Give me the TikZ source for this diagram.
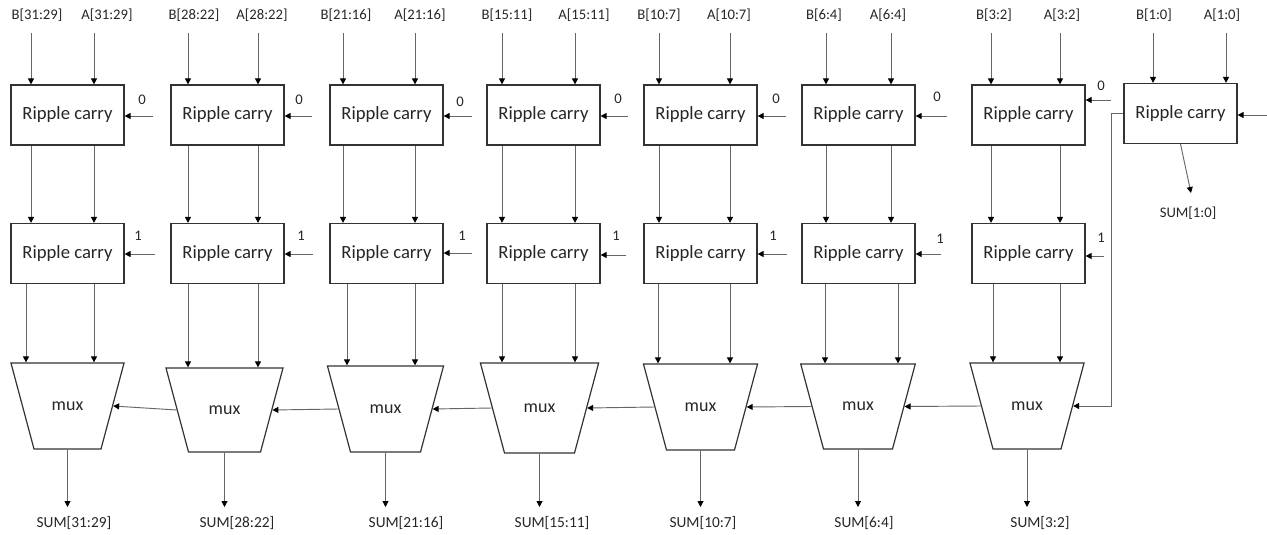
\documentclass[tikz,border=0pt]{standalone}
\usepackage{fontspec}
\setmainfont{Carlito}
\usetikzlibrary{arrows.meta,shapes.geometric,calc}
\begin{document}
\begin{tikzpicture}[x=0.75pt,y=-0.75pt,
  rc/.style={draw=black!80,line width=0.9pt,minimum width=84.75pt,minimum height=45pt,inner sep=0pt,font=\fontsize{14}{16}\selectfont,text=black!85},
  muxs/.style={draw=black!80,line width=0.9pt,trapezium,shape border rotate=180,trapezium angle=75,inner sep=0pt,text depth=0pt},
  muxt/.style={font=\fontsize{13.5}{16}\selectfont,text=black!85,inner sep=0pt},
  lbl/.style={font=\fontsize{11}{13}\selectfont,text=black!85,inner sep=0pt},
  sumlbl/.style={font=\fontsize{11.5}{13}\selectfont,text=black!85,inner sep=0pt},
  arr/.style={draw=black!60,line width=0.7pt,-{Triangle[length=4.5pt,width=4.5pt,color=black]}}
]
\useasboundingbox (0,0) rectangle (1267,535);

% ripple carry blocks
\foreach \i/\cx in {1/67.5,2/227.5,3/386.5,4/543.5,5/700.5,6/858.5,7/1028.5}{
  \node[rc] (r1c\i) at (\cx,115) {Ripple carry};
  \node[rc] (r2c\i) at (\cx,253.5) {Ripple carry};
}
\node[rc] (r1c8) at (1180.5,113.5) {Ripple carry};

% muxes
\foreach \i/\cx/\cy/\w/\h in {1/67.5/406/50.25pt/64.5pt, 2/224.5/410/54pt/63pt, 3/385.5/409/52.5pt/64.5pt, 4/539.5/408/52.5pt/67.5pt, 5/700.5/407/51pt/64.5pt, 6/858/406.5/51.75pt/63.75pt, 7/1027/406/51pt/64.5pt}{
  \node[muxs,text width=\w,text height=\h] (m\i) at (\cx,\cy) {};
  \node[muxt] (mt\i) at (m\i.center) {mux};
}

% input labels
\foreach \i/\bits/\bx/\ax in {1/31:29/37/107, 2/28:22/194/262, 3/21:16/346/420, 4/15:11/507/584, 5/10:7/659/729, 6/6:4/824/888, 7/3:2/994/1062, 8/1:0/1154/1222}{
  \node[lbl] (lb\i) at (\bx,15) {B[\bits]};
  \node[lbl] (la\i) at (\ax,15) {A[\bits]};
}

% vertical connectors
\foreach \i/\b/\a/\lb/\la in {1/31/94/26/94, 2/188/258/188/258, 3/343/415/347/415, 4/502/575/502/575, 5/659/730/658/730, 6/826/891/825/898, 7/991/1060/993/1060}{
  \coordinate (ib\i) at (\b,33);
  \coordinate (ia\i) at (\a,33);
  \coordinate (jb\i) at (\lb,0);
  \coordinate (ja\i) at (\la,0);
  \draw[arr] (ib\i) -- (ib\i |- r1c\i.north);
  \draw[arr] (ia\i) -- (ia\i |- r1c\i.north);
  \draw[arr] (ib\i |- r1c\i.south) -- (ib\i |- r2c\i.north);
  \draw[arr] (ia\i |- r1c\i.south) -- (ia\i |- r2c\i.north);
  \draw[arr] (jb\i |- r2c\i.south) -- (jb\i |- m\i.north);
  \draw[arr] (ja\i |- r2c\i.south) -- (ja\i |- m\i.north);
}
\coordinate (ib8) at (1153,33);
\coordinate (ia8) at (1226,33);
\draw[arr] (ib8) -- (ib8 |- r1c8.north);
\draw[arr] (ia8) -- (ia8 |- r1c8.north);

% constant carry inputs, row 1
\foreach \i/\sx/\sy/\lx/\ly in {1/153/116/142/100, 2/312/116/299/100, 3/472/116/460/102, 4/628/116/618/99, 5/786/116/776/99, 6/947/116/937/97, 7/1111/100/1101/86}{
  \coordinate (k0\i) at (\sx,\sy);
  \draw[arr] (k0\i) -- (k0\i -| r1c\i.east);
  \node[lbl] (z\i) at (\lx,\ly) {0};
}
% constant carry inputs, row 2
\foreach \i/\sx/\sy/\lx/\ly in {1/155/254/138/236, 2/313/254/301/236, 3/472/253/462/236, 4/626/255/616/236, 5/787/254/773/236, 6/941/254/940/239, 7/1104/256/1101/238}{
  \coordinate (k1\i) at (\sx,\sy);
  \draw[arr] (k1\i) -- (k1\i -| r2c\i.east);
  \node[lbl] (u\i) at (\lx,\ly) {1};
}
\coordinate (k8) at (1267,115);
\draw[arr] (k8) -- (k8 -| r1c8.east);

% mux chain
\foreach \i/\j in {1/2,2/3,3/4,4/5,5/6,6/7}{
  \draw[arr] (m\j.west) -- (m\i.east);
}
\draw[arr] (r1c8.west) -- ++(-12,0) |- (m7.east);

% outputs
\coordinate (ob) at (0,507);
\foreach \i/\bits/\sx in {1/31:29/74, 2/28:22/237, 3/21:16/406, 4/15:11/552, 5/10:7/703, 6/6:4/864, 7/3:2/1040}{
  \draw[arr] (m\i.south) -- (m\i.south |- ob);
  \node[sumlbl] (s\i) at (\sx,523) {SUM[\bits]};
}
\coordinate (o8) at (1191,193);
\draw[arr] (r1c8.south) -- (o8);
\node[lbl] (s8) at (1188,213) {SUM[1:0]};
\end{tikzpicture}
\end{document}
